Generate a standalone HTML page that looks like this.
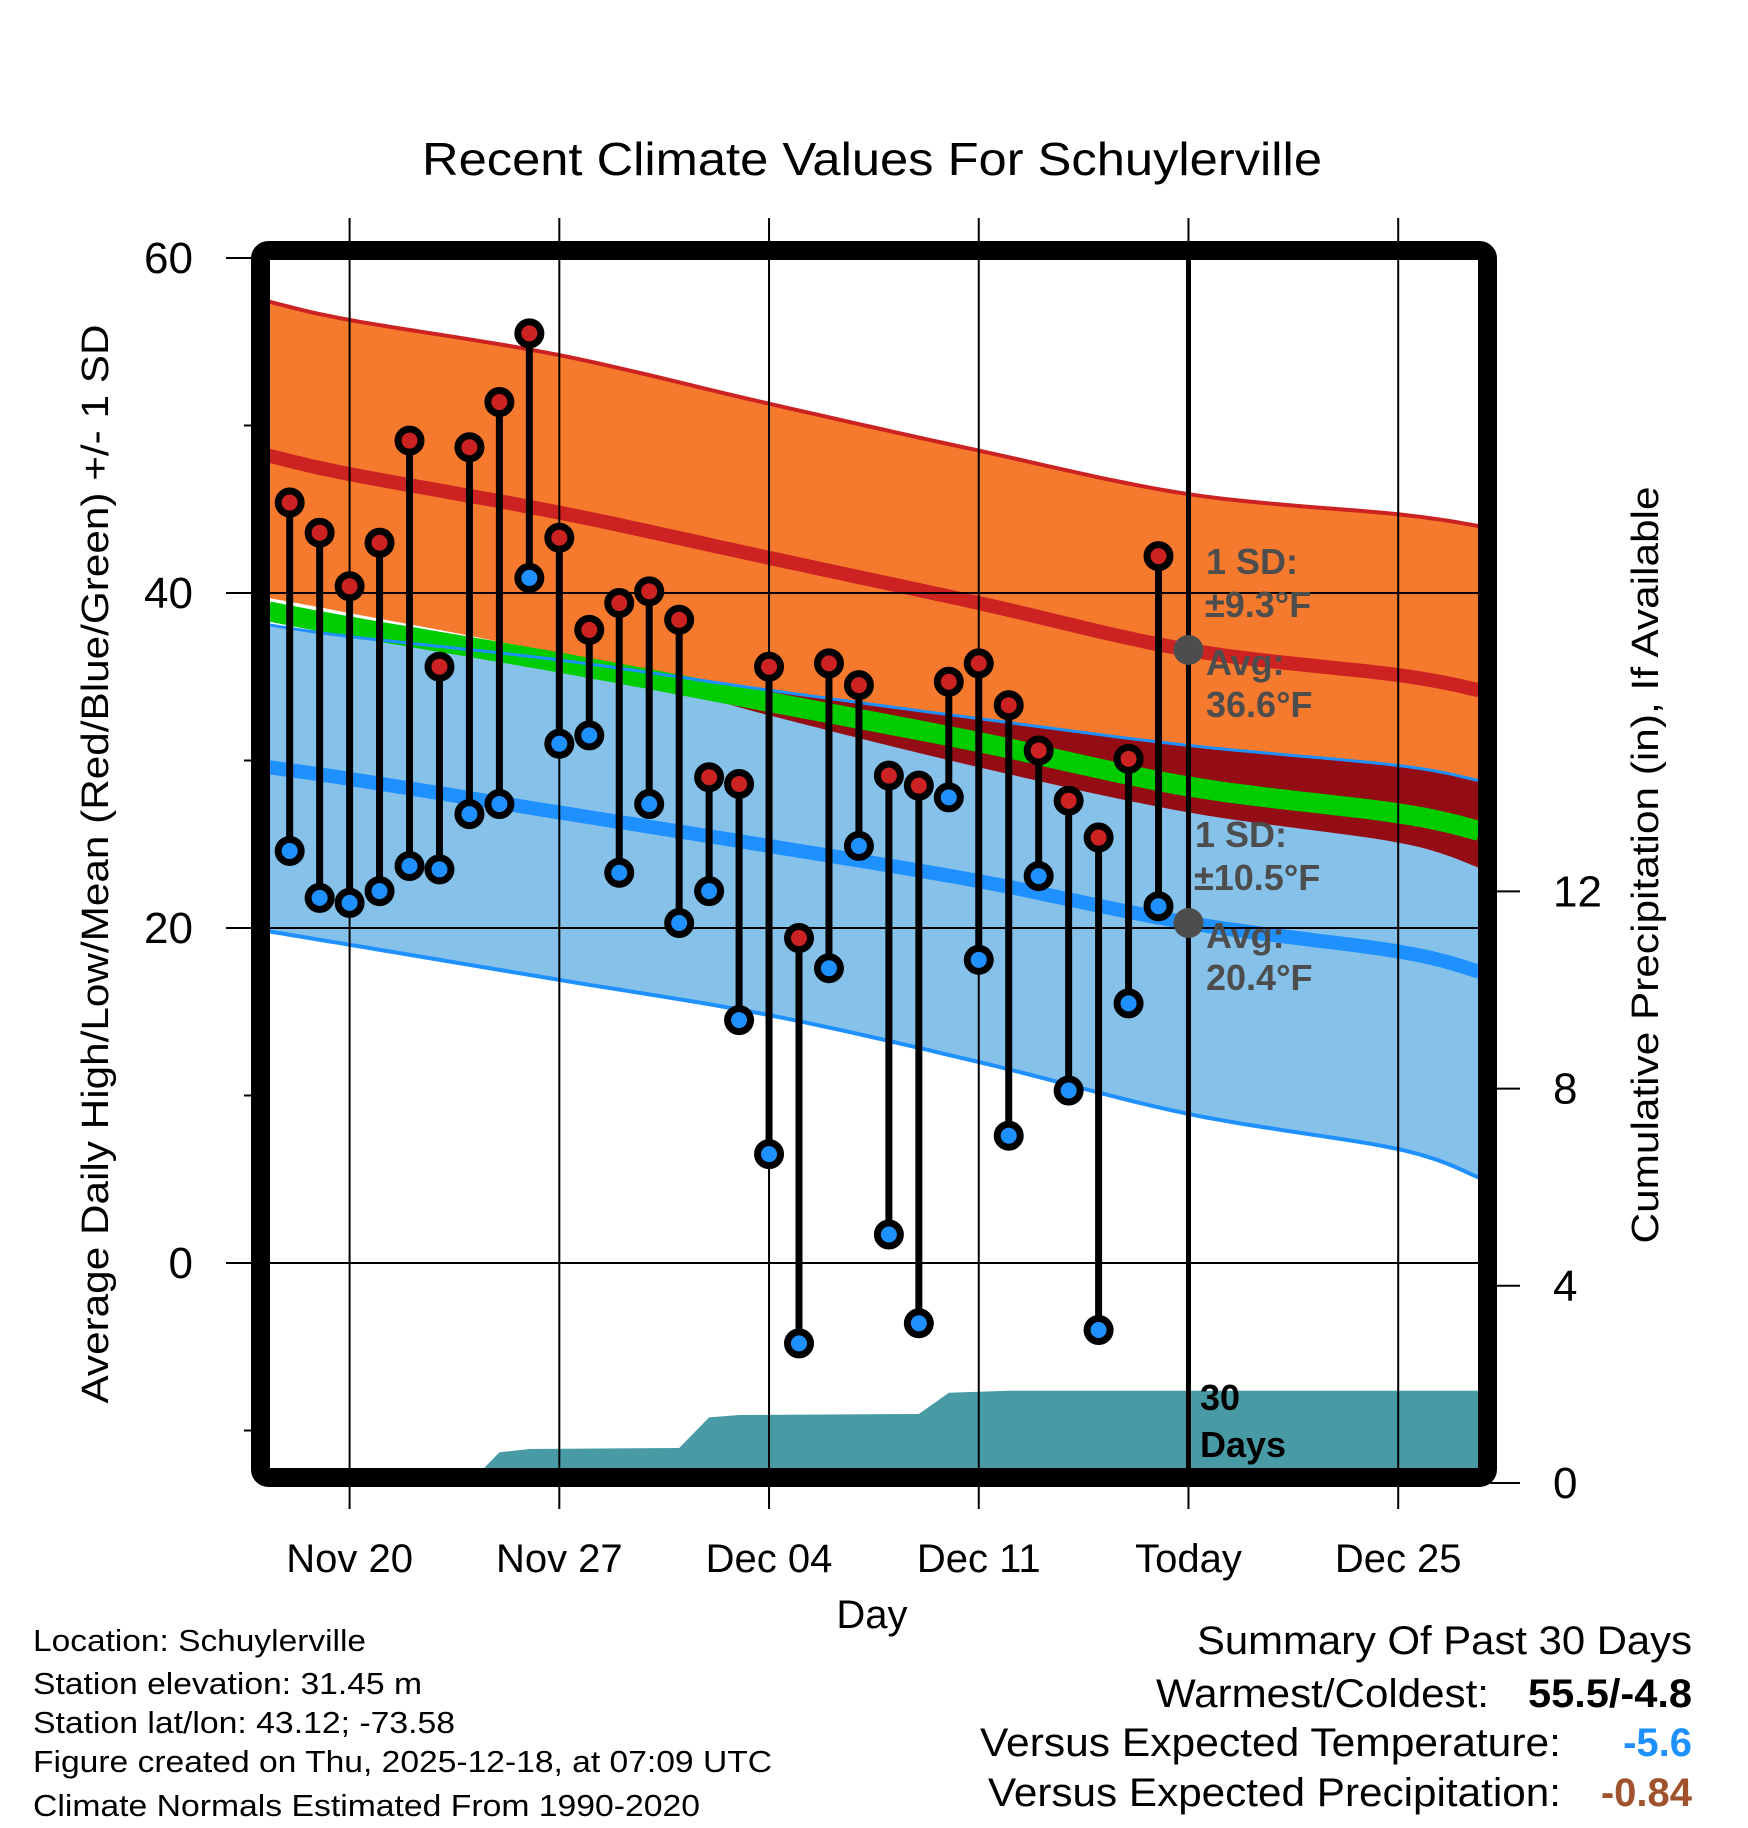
<!DOCTYPE html>
<html><head><meta charset="utf-8"><title>Recent Climate Values For Schuylerville</title>
<style>html,body{margin:0;padding:0;background:#fff}svg{display:block}text{font-family:"Liberation Sans",sans-serif}</style>
</head><body>
<svg id="chart" xmlns="http://www.w3.org/2000/svg" width="1748" height="1828" viewBox="0 0 1748 1828">
<defs><clipPath id="plotclip"><rect x="270" y="260" width="1208" height="1208"/></clipPath></defs>
<text x="872" y="175" font-size="46" text-anchor="middle" textLength="900" lengthAdjust="spacingAndGlyphs">Recent Climate Values For Schuylerville</text>
<g id="fills" clip-path="url(#plotclip)"></g>
<g id="grid"></g>
<g id="marks" clip-path="url(#plotclip)"></g>
<g id="labels"></g>
<rect x="260.5" y="250.5" width="1227" height="1227" rx="8" fill="none" stroke="#000" stroke-width="19"/>
<text transform="translate(108,864) rotate(-90)" font-size="38" text-anchor="middle" textLength="1079" lengthAdjust="spacingAndGlyphs">Average Daily High/Low/Mean (Red/Blue/Green) +/- 1 SD</text>
<text transform="translate(1658,865) rotate(-90)" font-size="38" text-anchor="middle" textLength="757" lengthAdjust="spacingAndGlyphs">Cumulative Precipitation (in), If Available</text>
<text x="872" y="1628" font-size="40" text-anchor="middle">Day</text>
<g font-size="31">
<text x="33" y="1651" textLength="333" lengthAdjust="spacingAndGlyphs">Location: Schuylerville</text>
<text x="33" y="1694" textLength="389" lengthAdjust="spacingAndGlyphs">Station elevation: 31.45 m</text>
<text x="33" y="1733" textLength="422" lengthAdjust="spacingAndGlyphs">Station lat/lon: 43.12; -73.58</text>
<text x="33" y="1772" textLength="739" lengthAdjust="spacingAndGlyphs">Figure created on Thu, 2025-12-18, at 07:09 UTC</text>
<text x="33" y="1816" textLength="667" lengthAdjust="spacingAndGlyphs">Climate Normals Estimated From 1990-2020</text>
</g>
<g font-size="40">
<text x="1197" y="1654" textLength="495" lengthAdjust="spacingAndGlyphs">Summary Of Past 30 Days</text>
<text x="1156" y="1707" textLength="333" lengthAdjust="spacingAndGlyphs">Warmest/Coldest:</text>
<text x="1528" y="1707" font-weight="bold" textLength="164" lengthAdjust="spacingAndGlyphs">55.5/-4.8</text>
<text x="980" y="1756" textLength="581" lengthAdjust="spacingAndGlyphs">Versus Expected Temperature:</text>
<text x="1692" y="1756" font-weight="bold" fill="#1e90ff" text-anchor="end">-5.6</text>
<text x="988" y="1806" textLength="573" lengthAdjust="spacingAndGlyphs">Versus Expected Precipitation:</text>
<text x="1692" y="1806" font-weight="bold" fill="#a0522d" text-anchor="end">-0.84</text>
</g>
</svg>
<script>
// ---- data ----
const normDays = [-2.7, 0, 7, 14, 21, 28, 35, 37.7];
const hiUpper = [57.4, 56.3, 54.2, 51.3, 48.5, 45.9, 44.7, 44.0];
const hiNormal = [48.2, 47.1, 44.8, 42.1, 39.4, 36.6, 35.1, 34.2];
const hiLower = [39.7, 38.8, 36.3, 32.7, 29.6, 26.9, 25.1, 23.6];
const loUpper = [38.1, 37.4, 36.0, 34.2, 32.5, 30.9, 29.7, 28.8];
const loNormal = [29.6, 28.9, 26.9, 24.9, 22.8, 20.3, 18.6, 17.4];
const loLower = [19.8, 19.0, 16.9, 14.8, 12.0, 8.9, 6.8, 5.1];
const obsDays = [-2,-1,0,1,2,3,4,5,6,7,8,9,10,11,12,13,14,15,16,17,18,19,20,21,22,23,24,25,26,27];
const highs = [45.4,43.6,40.4,43.0,49.1,35.6,48.7,51.4,55.5,43.3,37.8,39.4,40.1,38.4,29.0,28.6,35.6,19.4,35.8,34.5,29.1,28.5,34.7,35.8,33.3,30.6,27.6,25.4,30.1,42.2];
const lows = [24.6,21.8,21.5,22.2,23.7,23.5,26.8,27.4,40.9,31.0,31.5,23.3,27.4,20.3,22.2,14.5,6.5,-4.8,17.6,24.9,1.7,-3.6,27.8,18.1,7.6,23.1,10.3,-4.0,15.5,21.3];
const precipDays = [-2.7,4,5,6,11,12,13,19,20,22,27,37.7];
const precipCum = [0,0,0.62,0.69,0.71,1.33,1.38,1.40,1.83,1.87,1.87,1.87];
const xTickDays = [0, 7, 14, 21, 28, 35];
const xTickLabels = ["Nov 20","Nov 27","Dec 04","Dec 11","Today","Dec 25"];
const yTicks = [0, 20, 40, 60];
const yMinor = [-10, 10, 30, 50];
const y2Ticks = [0, 4, 8, 12];
const todayDay = 28;

// ---- axes ----
const X = d => 349.6 + 29.96 * d;
const Y = v => 1263 - 16.75 * v;
const YP = p => 1483 - 49.3 * p;
const NS = "http://www.w3.org/2000/svg";
function mk(parent, tag, attrs) { const e = document.createElementNS(NS, tag); for (const k in attrs) e.setAttribute(k, attrs[k]); parent.appendChild(e); return e; }
const fills = document.getElementById('fills'), grid = document.getElementById('grid'), marks = document.getElementById('marks'), labels = document.getElementById('labels');
function smoothPts(xs, ys) {
  // Catmull-Rom sampled points through data
  const P = xs.map((d, i) => [X(d), Y(ys[i])]);
  const out = [];
  for (let i = 0; i < P.length - 1; i++) {
    const p0 = P[Math.max(0, i - 1)], p1 = P[i], p2 = P[i + 1], p3 = P[Math.min(P.length - 1, i + 2)];
    for (let k = 0; k < 12; k++) {
      const t = k / 12, t2 = t * t, t3 = t2 * t;
      const f = (a, b, c, d) => 0.5 * (2 * b + (-a + c) * t + (2 * a - 5 * b + 4 * c - d) * t2 + (-a + 3 * b - 3 * c + d) * t3);
      out.push([f(p0[0], p1[0], p2[0], p3[0]), f(p0[1], p1[1], p2[1], p3[1])]);
    }
  }
  out.push(P[P.length - 1]);
  return out;
}
const fmt = a => a.map(p => p[0].toFixed(1) + ',' + p[1].toFixed(1));
function band(top, bot, color, name) {
  const p = fmt(smoothPts(normDays, top)).concat(fmt(smoothPts(normDays, bot)).reverse());
  const e = mk(fills, 'polygon', {points: p.join(' '), fill: color});
  
  
}
band(hiUpper, hiLower, '#f57a2e', 'high-sd-band');
band(loUpper, loLower, '#85c1e8', 'low-sd-band');
const ovBot = hiLower.map((v, i) => Math.min(v, loUpper[i]));
band(loUpper, ovBot, '#940c14', 'overlap-band');
// precip
{
  const p = precipDays.map((d, i) => X(d).toFixed(1) + ',' + YP(precipCum[i]).toFixed(1));
  p.push(X(precipDays[precipDays.length-1]).toFixed(1) + ',1470', X(precipDays[0]).toFixed(1) + ',1470');
  const e = mk(fills, 'polygon', {points: p.join(' '), fill: '#489ba4'});
  
  
}
function line(vals, color, w, name) {
  const e = mk(fills, 'polyline', {points: fmt(smoothPts(normDays, vals)).join(' '), fill: 'none', stroke: color, 'stroke-width': w});
  
  
}
const meanN = hiNormal.map((v, i) => (v + loNormal[i]) / 2);
line(meanN, '#00cc00', 20, 'mean-normal-line');
line(hiUpper, '#cc2222', 4, 'high-plus-sd-line');
line(loUpper, '#1e90ff', 3, 'low-plus-sd-line');
line(loLower, '#1e90ff', 4, 'low-minus-sd-line');
line(hiNormal, '#cc2222', 14, 'high-normal-line');
line(loNormal, '#1e90ff', 14, 'low-normal-line');

// grid & ticks
xTickDays.forEach((d, i) => {
  const g = mk(grid, 'line', {x1: X(d), x2: X(d), y1: 218, y2: 1509, stroke: '#000', 'stroke-width': 2});
  
  
  const t = mk(labels, 'text', {x: X(d), y: 1572, 'font-size': 40, 'text-anchor': 'middle'});
  
  
  t.textContent = xTickLabels[i];
});
yTicks.forEach(v => {
  const g = mk(grid, 'line', {x1: 226, x2: 1478, y1: Y(v), y2: Y(v), stroke: '#000', 'stroke-width': 2});
  
  
  const t = mk(labels, 'text', {x: 193, y: Y(v) + 15, 'font-size': 44, 'text-anchor': 'end'});
  
  
  t.textContent = v;
});
yMinor.forEach(v => {
  const g = mk(grid, 'line', {x1: 244, x2: 260, y1: Y(v), y2: Y(v), stroke: '#000', 'stroke-width': 2});
  
  
});
y2Ticks.forEach(p => {
  const g = mk(grid, 'line', {x1: 1490, x2: 1520, y1: YP(p), y2: YP(p), stroke: '#000', 'stroke-width': 2});
  
  
  const t = mk(labels, 'text', {x: 1553, y: YP(p) + 15, 'font-size': 44});
  
  
  t.textContent = p;
});
// today line
{
  const e = mk(marks, 'line', {x1: X(todayDay), x2: X(todayDay), y1: 255, y2: 1470, stroke: '#000', 'stroke-width': 5});
  
  
}
// observations
obsDays.forEach((d, i) => {
  const s = mk(marks, 'line', {x1: X(d), x2: X(d), y1: Y(highs[i]), y2: Y(lows[i]), stroke: '#000', 'stroke-width': 7});
  
  
  const h = mk(marks, 'circle', {cx: X(d), cy: Y(highs[i]), r: 11.5, fill: '#cc2222', stroke: '#000', 'stroke-width': 7});
  
  
  const l = mk(marks, 'circle', {cx: X(d), cy: Y(lows[i]), r: 11.5, fill: '#1e90ff', stroke: '#000', 'stroke-width': 7});
  
  
});
[hiNormal[5], loNormal[5]].forEach((v, i) => {
  const c = mk(marks, 'circle', {cx: X(todayDay), cy: Y(v), r: 15, fill: '#4d4d4d'});
  
  
});
function ann(x, y, txt, name, color, size) {
  const t = mk(labels, 'text', {x: x, y: y, 'font-size': size, 'font-weight': 'bold', fill: color});
  
  
  t.textContent = txt;
}
ann(1206, 574, '1 SD:', 'high-sd-label', '#4d4d4d', 36);
ann(1205, 617, '±9.3°F', 'high-sd-value', '#4d4d4d', 36);
ann(1206, 675, 'Avg:', 'high-avg-label', '#4d4d4d', 36);
ann(1206, 717, '36.6°F', 'high-avg-value', '#4d4d4d', 36);
ann(1195, 847, '1 SD:', 'low-sd-label', '#4d4d4d', 36);
ann(1194, 890, '±10.5°F', 'low-sd-value', '#4d4d4d', 36);
ann(1206, 948, 'Avg:', 'low-avg-label', '#4d4d4d', 36);
ann(1206, 990, '20.4°F', 'low-avg-value', '#4d4d4d', 36);
ann(1200, 1410, '30', 'days-label-number', '#000', 36);
ann(1200, 1457, 'Days', 'days-label-text', '#000', 36);
</script>
</body></html>
